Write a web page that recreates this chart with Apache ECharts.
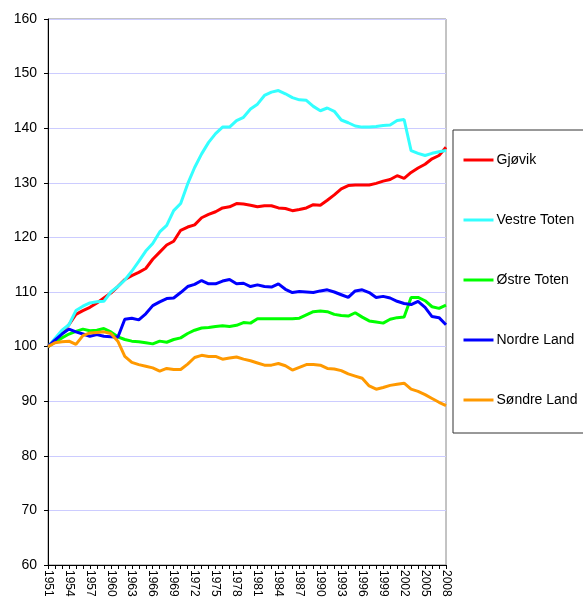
<!DOCTYPE html>
<html>
<head>
<meta charset="utf-8">
<script src="https://cdn.jsdelivr.net/npm/echarts@6/dist/echarts.min.js"></script>
<style>
html,body{margin:0;padding:0;background:#fff;}
#c{width:583px;height:601px;}
</style>
</head>
<body>
<div id="c"></div>
<script>
const years = [];
for (let y = 1951; y <= 2008; y++) years.push(String(y));

const gjovik = [100,101.3,102.6,104.0,105.9,106.6,107.2,108.0,108.9,109.8,111.0,112.3,113.0,113.6,114.3,116.0,117.3,118.6,119.3,121.3,121.9,122.3,123.6,124.2,124.7,125.4,125.6,126.2,126.1,125.9,125.6,125.8,125.8,125.4,125.3,124.9,125.1,125.4,126.0,125.9,126.8,127.8,128.9,129.5,129.6,129.6,129.6,129.9,130.3,130.6,131.3,130.8,131.9,132.7,133.4,134.4,135.0,136.5];
const vestreToten = [100,101.5,103.0,104.0,106.6,107.4,108.0,108.2,108.3,110.0,111.0,112.2,113.8,115.6,117.5,118.9,121.0,122.2,124.9,126.2,129.8,132.8,135.3,137.4,139.0,140.2,140.2,141.4,142.0,143.5,144.4,146.0,146.6,146.9,146.3,145.6,145.2,145.1,144.0,143.2,143.7,143.1,141.5,141.0,140.4,140.2,140.2,140.3,140.5,140.6,141.4,141.6,135.9,135.4,135.0,135.4,135.7,135.9];
const ostreToten = [100,100.8,101.6,102.3,102.8,103.2,102.9,103.0,103.3,102.7,101.8,101.3,101.0,100.9,100.7,100.5,101.0,100.8,101.3,101.6,102.4,103.0,103.4,103.5,103.7,103.8,103.7,103.9,104.4,104.3,105.1,105.1,105.1,105.1,105.1,105.1,105.2,105.8,106.4,106.5,106.4,105.9,105.7,105.6,106.2,105.4,104.7,104.5,104.3,105.0,105.3,105.4,109.0,109.0,108.4,107.3,107.0,107.6];
const nordreLand = [100,101.2,102.3,103.2,102.7,102.3,101.9,102.2,101.9,101.8,101.7,105.0,105.2,104.9,106.0,107.5,108.2,108.8,108.9,109.9,111.0,111.4,112.1,111.5,111.5,112.0,112.3,111.5,111.6,111.0,111.3,111.0,110.9,111.5,110.5,109.9,110.1,110.0,109.9,110.2,110.4,110.0,109.5,109.0,110.2,110.4,109.9,109.0,109.2,108.9,108.3,107.9,107.7,108.3,107.2,105.5,105.3,104.0];
const sondreLand = [100,100.7,100.9,101.0,100.4,102.0,102.5,102.6,102.7,102.4,101.0,98.2,97.1,96.7,96.4,96.1,95.5,96.0,95.8,95.8,96.8,98.0,98.4,98.2,98.2,97.7,97.9,98.1,97.7,97.4,97.0,96.6,96.6,96.9,96.5,95.7,96.2,96.7,96.7,96.6,96.0,95.9,95.6,95.0,94.6,94.2,92.8,92.2,92.5,92.9,93.1,93.3,92.2,91.8,91.2,90.5,89.8,89.2];

const seriesNames = ['Gjøvik','Vestre Toten','Østre Toten','Nordre Land','Søndre Land'];
const seriesData = [gjovik, vestreToten, ostreToten, nordreLand, sondreLand];
const seriesColors = ['#ff0000','#33ffff','#00ff00','#0000ff','#ff9900'];

const font = 'Liberation Sans, Arial, sans-serif';
const chart = echarts.init(document.getElementById('c'), null, {renderer:'canvas'});
chart.setOption({
  animation: false,
  backgroundColor: '#ffffff',
  textStyle: {fontFamily: font},
  grid: {left: 48, top: 19, right: 137, bottom: 36, show: true, borderColor: '#888888', borderWidth: 1, backgroundColor: 'transparent'},
  legend: {
    orient: 'vertical',
    left: 453, top: 130,
    padding: [23, 40, 26, 9],
    itemGap: 46,
    itemWidth: 30, itemHeight: 14,
    borderColor: '#333', borderWidth: 1,
    itemStyle: {opacity: 0},
    lineStyle: {width: 3},
    textStyle: {fontFamily: font, fontSize: 14, color: '#000', padding: [0,0,0,-2]},
    data: seriesNames
  },
  xAxis: {
    type: 'category',
    data: years,
    boundaryGap: false,
    axisLine: {lineStyle: {color: '#000', width: 1}},
    axisTick: {interval: 0, length: 4, lineStyle: {color: '#000'}},
    axisLabel: {interval: 2, rotate: -90, fontSize: 12, color: '#000', fontFamily: font, margin: 5},
    splitLine: {show: false}
  },
  yAxis: {
    type: 'value',
    min: 60, max: 160, interval: 10,
    axisLine: {show: true, lineStyle: {color: '#000', width: 1}},
    axisTick: {show: true, length: 4, lineStyle: {color: '#000'}},
    axisLabel: {fontSize: 14, color: '#000', fontFamily: font, margin: 11},
    splitLine: {show: true, lineStyle: {color: '#ccccff', width: 1}}
  },
  series: seriesNames.map((n, k) => ({
    name: n,
    type: 'line',
    data: seriesData[k],
    symbol: 'none',
    color: seriesColors[k],
    lineStyle: {width: 3, color: seriesColors[k]},
    itemStyle: {color: seriesColors[k]}
  }))
});
</script>
</body>
</html>
